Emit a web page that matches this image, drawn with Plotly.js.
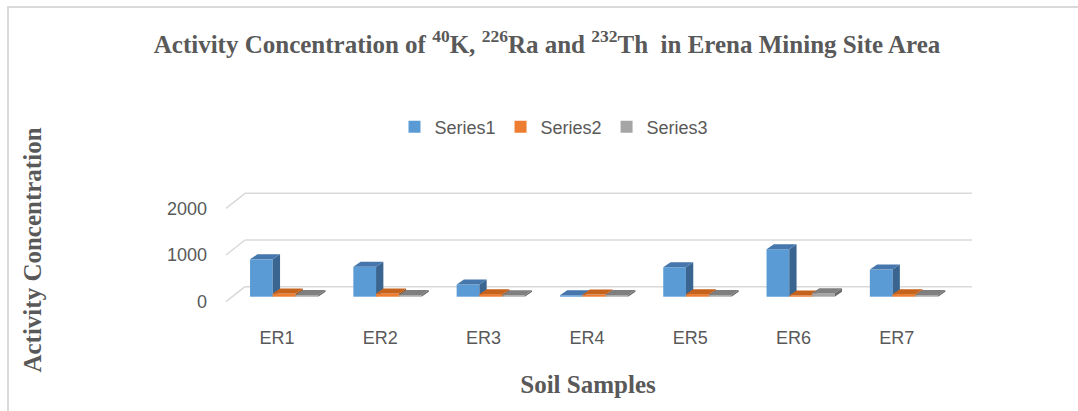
<!DOCTYPE html>
<html>
<head>
<meta charset="utf-8">
<script src="https://cdn.plot.ly/plotly-3.0.1.min.js"></script>
<style>
  html, body { margin: 0; padding: 0; background: #fff; }
  #chart { width: 1078px; height: 411px; }
</style>
</head>
<body>
<div id="chart"></div>
<script>
// ---------------- data ----------------
const categories = ['ER1', 'ER2', 'ER3', 'ER4', 'ER5', 'ER6', 'ER7'];
const series1 = [800, 640, 260, 30, 630, 1015, 580];
const series2 = [70, 70, 55, 45, 55, 25, 55];
const series3 = [35, 35, 30, 35, 35, 75, 35];
const seriesNames = ['Series1', 'Series2', 'Series3'];
const yTicks = [0, 1000, 2000];

// ---------------- layout geometry ----------------
const W = 1078, H = 411;
const M = { l: 200, r: 102, t: 175, b: 86 };
const plotW = W - M.l - M.r, plotH = H - M.t - M.b;
const CAT0_PX = 277, CAT_STEP_PX = 103.3;   // category spacing in pixels
const ZERO_PX = 296.7, PX_PER_UNIT = 0.0467; // value scale in pixels
const xRange = [(M.l - CAT0_PX) / CAT_STEP_PX, (W - M.r - CAT0_PX) / CAT_STEP_PX];
const yRange = [(ZERO_PX - (H - M.b)) / PX_PER_UNIT, (ZERO_PX - M.t) / PX_PER_UNIT];

const BAR_W = 0.22;
const offsets = [-0.261, -0.041, 0.179];
const DX = 7.3 / CAT_STEP_PX;      // depth shift (x units)
const DY = 5 / PX_PER_UNIT;        // depth shift (y units)
const WALL_DY = 10 / PX_PER_UNIT;  // back wall above bar front plane
const FRONT_DY = -5 / PX_PER_UNIT; // front edge below bar front plane
const WALL_X0 = (245 - CAT0_PX) / CAT_STEP_PX;
const WALL_X1 = (972 - CAT0_PX) / CAT_STEP_PX;
const FRONT_X = (226 - CAT0_PX) / CAT_STEP_PX;

const colors = [
  { front: '#5B9BD5', top: '#4677AC', side: '#3A6590' },
  { front: '#ED7D31', top: '#C5621C', side: '#A9541A' },
  { front: '#A5A5A5', top: '#7F7F7F', side: '#6B6B6B' }
];
const allSeries = [series1, series2, series3];
const xs = categories.map((c, i) => i);

const traces = [];
allSeries.forEach((vals, s) => {
  const xa = s === 0 ? 'x' : 'x' + (s + 1);
  const ya = s === 0 ? 'y' : 'y' + (s + 1);
  traces.push({
    type: 'bar', name: seriesNames[s], x: xs, y: vals,
    width: BAR_W, offset: offsets[s],
    marker: { color: colors[s].front, line: { width: 0 } },
    xaxis: xa, yaxis: ya, hoverinfo: 'y'
  });
  const sx = [], sy = [], tx = [], ty = [];
  vals.forEach((v, i) => {
    const x0 = xs[i] + offsets[s], x1 = x0 + BAR_W;
    sx.push(x1, x1 + DX, x1 + DX, x1, x1, null);
    sy.push(0, DY, v + DY, v, 0, null);
    tx.push(x0, x1, x1 + DX, x0 + DX, x0, null);
    ty.push(v, v, v + DY, v + DY, v, null);
  });
  traces.push({
    type: 'scatter', mode: 'lines', x: sx, y: sy, fill: 'toself',
    fillcolor: colors[s].side, line: { width: 0, color: colors[s].side },
    xaxis: xa, yaxis: ya, showlegend: false, hoverinfo: 'skip'
  });
  traces.push({
    type: 'scatter', mode: 'lines', x: tx, y: ty, fill: 'toself',
    fillcolor: colors[s].top, line: { width: 0, color: colors[s].top },
    xaxis: xa, yaxis: ya, showlegend: false, hoverinfo: 'skip'
  });
});

// gridlines on back wall + floor diagonals
const shapes = [];
yTicks.forEach(v => {
  shapes.push({ type: 'line', xref: 'x', yref: 'y', layer: 'below',
    x0: WALL_X0, x1: WALL_X1, y0: v + WALL_DY, y1: v + WALL_DY,
    line: { color: '#D9D9D9', width: 1.5 } });
  shapes.push({ type: 'line', xref: 'x', yref: 'y', layer: 'below',
    x0: FRONT_X, x1: WALL_X0, y0: v + FRONT_DY, y1: v + WALL_DY,
    line: { color: '#D9D9D9', width: 1.5 } });
});
// chart area border (top and left visible)
shapes.push({ type: 'rect', xref: 'paper', yref: 'paper', layer: 'below',
  x0: (8 - M.l) / plotW, x1: (W + 10 - M.l) / plotW,
  y0: -(M.b + 20) / plotH,
  y1: (H - 7 - M.b) / plotH,
  line: { color: '#D9D9D9', width: 2 }, fillcolor: 'rgba(0,0,0,0)' });

const axisFont = { family: 'Liberation Sans, Arial, sans-serif', size: 18, color: '#595959' };
const serifBold = { family: 'Liberation Serif, Times New Roman, serif', size: 25, color: '#595959', weight: 'bold' };

const hiddenX = { range: xRange, visible: false, fixedrange: true };
const hiddenY = { range: yRange, visible: false, fixedrange: true };

const layout = {
  width: W, height: H,
  margin: M,
  paper_bgcolor: '#FFFFFF', plot_bgcolor: 'rgba(0,0,0,0)',
  barmode: 'overlay',
  showlegend: true,
  title: {
    text: '<b>Activity Concentration of <sup>40</sup>K, <sup>226</sup>Ra and <sup>232</sup>Th  in Erena Mining Site Area</b>',
    font: serifBold, x: 547 / W, xanchor: 'center', y: 1 - 44 / H, yanchor: 'middle'
  },
  legend: {
    orientation: 'h', x: (554 - M.l) / plotW, xanchor: 'center',
    y: (H - M.b - 127) / plotH, yanchor: 'middle',
    font: axisFont, itemwidth: 30, bgcolor: 'rgba(0,0,0,0)'
  },
  xaxis: {
    range: xRange, tickmode: 'array', tickvals: xs, ticktext: categories,
    showgrid: false, zeroline: false, showline: false, ticks: '',
    tickfont: axisFont, fixedrange: true,
    title: { text: '<b>Soil Samples</b>', font: serifBold, standoff: 28 }
  },
  yaxis: {
    range: yRange, tickmode: 'array',
    tickvals: yTicks.map(v => v + FRONT_DY), ticktext: yTicks.map(String),
    showgrid: false, zeroline: false, showline: false, ticks: '',
    ticklabelstandoff: -8,
    tickfont: axisFont, fixedrange: true,
    title: { text: '<b>Activity Concentration</b>', font: serifBold, standoff: 118 }
  },
  xaxis2: Object.assign({ overlaying: 'x' }, hiddenX),
  yaxis2: Object.assign({ overlaying: 'y' }, hiddenY),
  xaxis3: Object.assign({ overlaying: 'x' }, hiddenX),
  yaxis3: Object.assign({ overlaying: 'y' }, hiddenY),
  shapes: shapes
};

Plotly.newPlot('chart', traces, layout, { displayModeBar: false, staticPlot: true });
</script>
</body>
</html>
